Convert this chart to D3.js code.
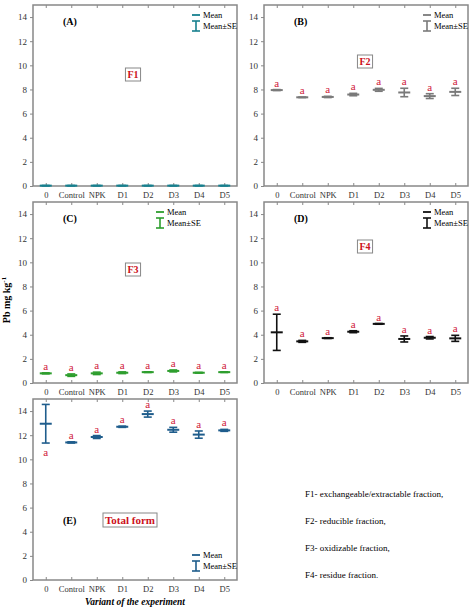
<!DOCTYPE html>
<html><head><meta charset="utf-8">
<script src="https://cdn.jsdelivr.net/npm/d3@7"></script>
<style>body{margin:0;background:#fff}text{font-family:"Liberation Serif",serif}</style>
</head><body><div id="chart"></div>
<script>
const variants = ['0', 'Control', 'NPK', 'D1', 'D2', 'D3', 'D4', 'D5'];
const yTicks = [0, 2, 4, 6, 8, 10, 12, 14];

const meanF1 = [0.03, 0.03, 0.03, 0.03, 0.03, 0.03, 0.03, 0.03];
const seF1 = [0.01, 0.01, 0.01, 0.01, 0.01, 0.01, 0.01, 0.01];
const meanF2 = [7.95, 7.35, 7.38, 7.58, 7.97, 7.75, 7.45, 7.8];
const seF2 = [0.04, 0.02, 0.05, 0.1, 0.12, 0.35, 0.2, 0.3];
const meanF3 = [0.8, 0.65, 0.8, 0.85, 0.9, 1.0, 0.85, 0.9];
const seF3 = [0.04, 0.1, 0.1, 0.07, 0.03, 0.08, 0.03, 0.03];
const meanF4 = [4.2, 3.45, 3.72, 4.25, 4.9, 3.65, 3.75, 3.7];
const seF4 = [1.5, 0.08, 0.03, 0.08, 0.03, 0.25, 0.1, 0.25];
const meanTotal = [12.95, 11.4, 11.85, 12.7, 13.75, 12.45, 12.05, 12.4];
const seTotal = [1.6, 0.05, 0.12, 0.05, 0.25, 0.2, 0.3, 0.08];
const letters = ['a', 'a', 'a', 'a', 'a', 'a', 'a', 'a'];

const panels = [
  { id: '(A)', tag: 'F1', mean: meanF1, se: seF1, color: '#17808f', x: 33, y: 5, letters: false, tagPos: [133, 78], legend: 'tr' },
  { id: '(B)', tag: 'F2', mean: meanF2, se: seF2, color: '#7a7a7a', x: 264, y: 5, letters: true, tagPos: [365, 65], legend: 'tr' },
  { id: '(C)', tag: 'F3', mean: meanF3, se: seF3, color: '#2e9e2e', x: 33, y: 202, letters: true, tagPos: [133, 273], legend: 'tl' },
  { id: '(D)', tag: 'F4', mean: meanF4, se: seF4, color: '#111111', x: 264, y: 202, letters: true, tagPos: [365, 250], legend: 'tr' },
  { id: '(E)', tag: 'Total form', mean: meanTotal, se: seTotal, color: '#1f5d8c', x: 33, y: 399, letters: true, tagPos: [130, 524], legend: 'br', below0: true }
];

const W = 204, H = 181;
const svg = d3.select('#chart').append('svg').attr('width', 474).attr('height', 610);

panels.forEach(p => {
  const g = svg.append('g').attr('transform', `translate(${p.x},${p.y})`);
  const x = d3.scalePoint().domain(variants).range([0, W]).padding(0.5);
  const y = d3.scaleLinear().domain([0, 15]).range([H, 0]);

  g.append('rect').attr('width', W).attr('height', H).attr('fill', 'none').attr('stroke', '#888').attr('stroke-width', 1.5);
  g.append('g').call(d3.axisLeft(y).tickValues(yTicks).tickSize(3).tickSizeOuter(0))
    .call(a => a.select('.domain').remove())
    .call(a => a.selectAll('line').attr('stroke', '#888'))
    .call(a => a.selectAll('text').attr('font-size', 9).attr('font-family', 'Liberation Serif').attr('fill', '#333'));
  g.append('g').attr('transform', `translate(0,${H})`)
    .call(d3.axisBottom(x).tickSize(-3).tickSizeOuter(0).tickPadding(6))
    .call(a => a.select('.domain').remove())
    .call(a => a.selectAll('line').attr('stroke', '#888'))
    .call(a => a.selectAll('text').attr('font-size', 8.5).attr('font-family', 'Liberation Serif').attr('fill', '#333'));
  g.append('g').call(d3.axisTop(x).tickSize(-3).tickFormat(''))
    .call(a => a.select('.domain').remove()).call(a => a.selectAll('line').attr('stroke', '#888'));

  const items = g.selectAll('.pt').data(variants.map((v, i) => ({ v, m: p.mean[i], s: p.se[i], l: letters[i], i }))).enter().append('g');
  items.append('line').attr('x1', d => x(d.v)).attr('x2', d => x(d.v))
    .attr('y1', d => y(d.m - d.s)).attr('y2', d => y(d.m + d.s)).attr('stroke', p.color).attr('stroke-width', 1.6);
  items.append('line').attr('x1', d => x(d.v) - 4).attr('x2', d => x(d.v) + 4)
    .attr('y1', d => y(d.m - d.s)).attr('y2', d => y(d.m - d.s)).attr('stroke', p.color).attr('stroke-width', 1.6);
  items.append('line').attr('x1', d => x(d.v) - 4).attr('x2', d => x(d.v) + 4)
    .attr('y1', d => y(d.m + d.s)).attr('y2', d => y(d.m + d.s)).attr('stroke', p.color).attr('stroke-width', 1.6);
  items.append('line').attr('x1', d => x(d.v) - 6).attr('x2', d => x(d.v) + 6)
    .attr('y1', d => y(d.m)).attr('y2', d => y(d.m)).attr('stroke', p.color).attr('stroke-width', 2);
  if (p.letters) {
    items.append('text').attr('x', d => x(d.v)).attr('text-anchor', 'middle')
      .attr('y', d => (p.below0 && d.i === 0) ? y(d.m - d.s) + 13 : y(d.m + d.s) - 3)
      .attr('font-size', 11).attr('fill', '#d0203a').text(d => d.l);
  }

  g.append('text').attr('x', 30).attr('y', p.id === '(E)' ? 125 : 20).attr('font-size', 10).attr('font-weight', 'bold').text(p.id);

  // tag box
  const tg = svg.append('g');
  const box = tg.append('rect');
  const t = tg.append('text').attr('x', p.tagPos[0]).attr('y', p.tagPos[1]).attr('text-anchor', 'middle')
    .attr('font-size', p.tag.length > 3 ? 11 : 10).attr('font-weight', 'bold').attr('fill', '#cc1020').text(p.tag);
  const bb = t.node().getBBox();
  box.attr('x', bb.x - 2).attr('y', bb.y - 1).attr('width', bb.width + 4).attr('height', bb.height + 2)
    .attr('fill', '#fff').attr('stroke', '#888');

  let lx, ly;
  if (p.legend === 'tr') { lx = W - 45; ly = 10; }
  else if (p.legend === 'tl') { lx = 123; ly = 10; }
  else { lx = W - 45; ly = H - 25; }
  const L = g.append('g').attr('transform', `translate(${lx},${ly})`);
  L.append('line').attr('x1', 0).attr('x2', 8).attr('y1', 0).attr('y2', 0).attr('stroke', p.color).attr('stroke-width', 1.8);
  L.append('text').attr('x', 11).attr('y', 3).attr('font-size', 8.5).text('Mean');
  L.append('line').attr('x1', 4).attr('x2', 4).attr('y1', 6).attr('y2', 16).attr('stroke', p.color).attr('stroke-width', 1.6);
  L.append('line').attr('x1', 0).attr('x2', 8).attr('y1', 6).attr('y2', 6).attr('stroke', p.color).attr('stroke-width', 1.6);
  L.append('line').attr('x1', 0).attr('x2', 8).attr('y1', 16).attr('y2', 16).attr('stroke', p.color).attr('stroke-width', 1.6);
  L.append('text').attr('x', 11).attr('y', 14).attr('font-size', 8.5).text('Mean±SE');
});

const yl = svg.append('text').attr('transform', 'translate(10,300) rotate(-90)').attr('text-anchor', 'middle')
  .attr('font-size', 10).attr('font-weight', 'bold');
yl.append('tspan').text('Pb mg kg');
yl.append('tspan').attr('dy', -4).attr('font-size', 7).text('-1');
svg.append('text').attr('x', 135).attr('y', 605).attr('text-anchor', 'middle').attr('font-size', 9.5)
  .attr('font-style', 'italic').attr('font-weight', 'bold').text('Variant of the experiment');

const notes = ['F1- exchangeable/extractable fraction,', 'F2- reducible fraction,', 'F3- oxidizable fraction,', 'F4- residue fraction.'];
svg.selectAll('.note').data(notes).enter().append('text')
  .attr('x', 305).attr('y', (d, i) => 497 + i * 27).attr('font-size', 9).text(d => d);
</script></body></html>
